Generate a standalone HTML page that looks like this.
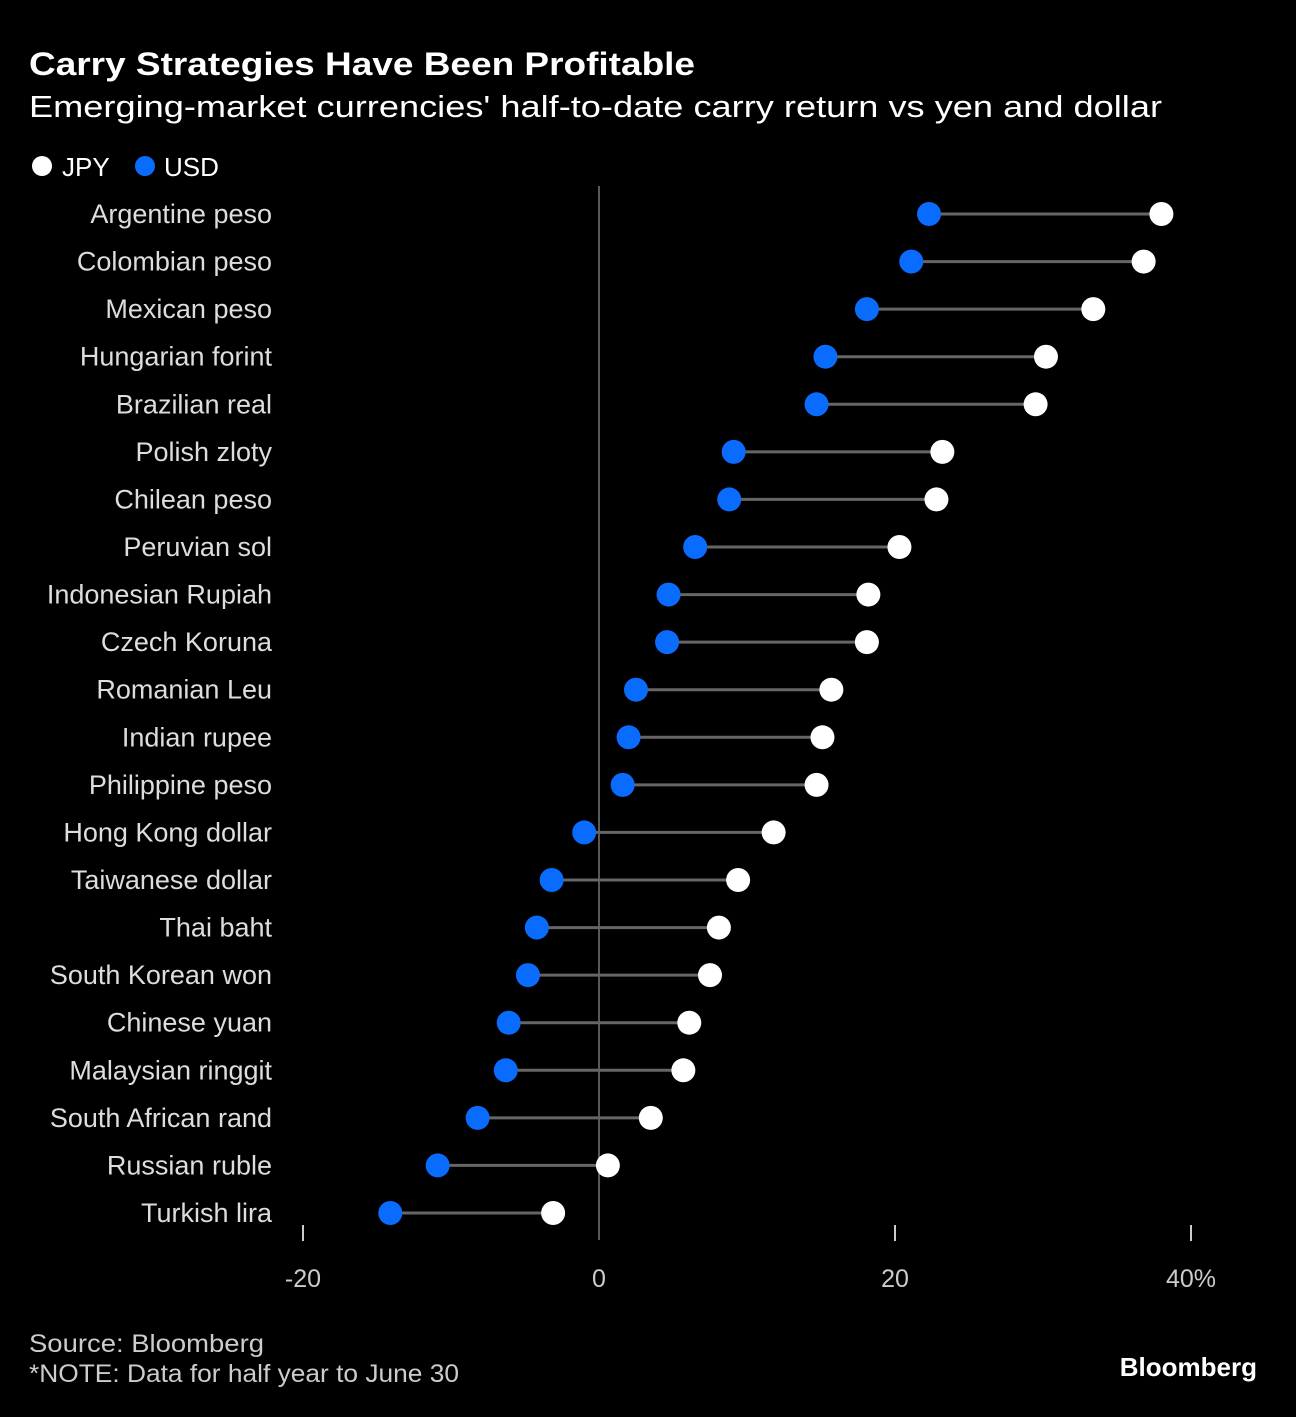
<!DOCTYPE html>
<html><head><meta charset="utf-8"><style>
html,body{margin:0;padding:0;background:#000;}
body{width:1296px;height:1412px;overflow:hidden;font-family:"Liberation Sans",sans-serif;color:#fff;}
</style></head><body>
<svg width="1296" height="1412" xmlns="http://www.w3.org/2000/svg">
<text x="29" y="75" font-size="32" font-weight="bold" fill="#fff" textLength="666" lengthAdjust="spacingAndGlyphs" font-family="Liberation Sans, sans-serif">Carry Strategies Have Been Profitable</text>
<text x="29" y="117" font-size="31" fill="#fff" textLength="1133" lengthAdjust="spacingAndGlyphs" font-family="Liberation Sans, sans-serif">Emerging-market currencies' half-to-date carry return vs yen and dollar</text>
<g>
<circle cx="42" cy="166" r="10" fill="#fff"/>
<text x="62" y="176" font-size="26" fill="#fff" font-family="Liberation Sans, sans-serif">JPY</text>
<circle cx="145" cy="166" r="10" fill="#0a6cff"/>
<text x="164" y="176" font-size="26" fill="#fff" font-family="Liberation Sans, sans-serif">USD</text>
</g>
<g id="plot"></g>
<text x="29" y="1352" font-size="25" fill="#ccc" textLength="235" lengthAdjust="spacingAndGlyphs" font-family="Liberation Sans, sans-serif">Source: Bloomberg</text>
<text x="29" y="1382" font-size="25" fill="#ccc" textLength="430" lengthAdjust="spacingAndGlyphs" font-family="Liberation Sans, sans-serif">*NOTE: Data for half year to June 30</text>
<text x="1257" y="1376" font-size="26" font-weight="bold" fill="#fff" text-anchor="end" font-family="Liberation Sans, sans-serif">Bloomberg</text>
</svg>
<script>
const categories=["Argentine peso","Colombian peso","Mexican peso","Hungarian forint","Brazilian real","Polish zloty","Chilean peso","Peruvian sol","Indonesian Rupiah","Czech Koruna","Romanian Leu","Indian rupee","Philippine peso","Hong Kong dollar","Taiwanese dollar","Thai baht","South Korean won","Chinese yuan","Malaysian ringgit","South African rand","Russian ruble","Turkish lira"];
const usdValues=[22.3,21.1,18.1,15.3,14.7,9.1,8.8,6.5,4.7,4.6,2.5,2.0,1.6,-1.0,-3.2,-4.2,-4.8,-6.1,-6.3,-8.2,-10.9,-14.1];
const jpyValues=[38.0,36.8,33.4,30.2,29.5,23.2,22.8,20.3,18.2,18.1,15.7,15.1,14.7,11.8,9.4,8.1,7.5,6.1,5.7,3.5,0.6,-3.1];
const tickValues=[-20,0,20,40];
const tickLabels=["-20","0","20","40%"];
const NS="http://www.w3.org/2000/svg";
const g=document.getElementById('plot');
function xs(v){return 599+v*14.8;}
function ys(i){return 214+i*(1213-214)/(categories.length-1);}
function mk(t,a){const e=document.createElementNS(NS,t);for(const k in a)e.setAttribute(k,a[k]);g.appendChild(e);return e;}
let z=mk('line',{x1:xs(0),x2:xs(0),y1:186,y2:1240,stroke:'#777','stroke-width':1.5});


tickValues.forEach((v,i)=>{
 if(v!==0){let t=mk('line',{x1:xs(v),x2:xs(v),y1:1225,y2:1241,stroke:'#ccc','stroke-width':2});
 
 }
 let l=mk('text',{x:xs(v),y:1287,'font-size':25,fill:'#ccc','text-anchor':'middle','font-family':'Liberation Sans, sans-serif'});
 l.textContent=tickLabels[i];
 
 
});
categories.forEach((c,i)=>{
 const y=ys(i);
 let l=mk('text',{x:272,y:y+9,'font-size':27,fill:'#ddd','text-anchor':'end','font-family':'Liberation Sans, sans-serif'});
 l.textContent=c;
 
 
 let ln=mk('line',{x1:xs(usdValues[i]),x2:xs(jpyValues[i]),y1:y,y2:y,stroke:'#666','stroke-width':3});
 
 
 let a=mk('circle',{cx:xs(jpyValues[i]),cy:y,r:12,fill:'#fff'});
 
 
 let b=mk('circle',{cx:xs(usdValues[i]),cy:y,r:12,fill:'#0a6cff'});
 
 
});
</script>
</body></html>
